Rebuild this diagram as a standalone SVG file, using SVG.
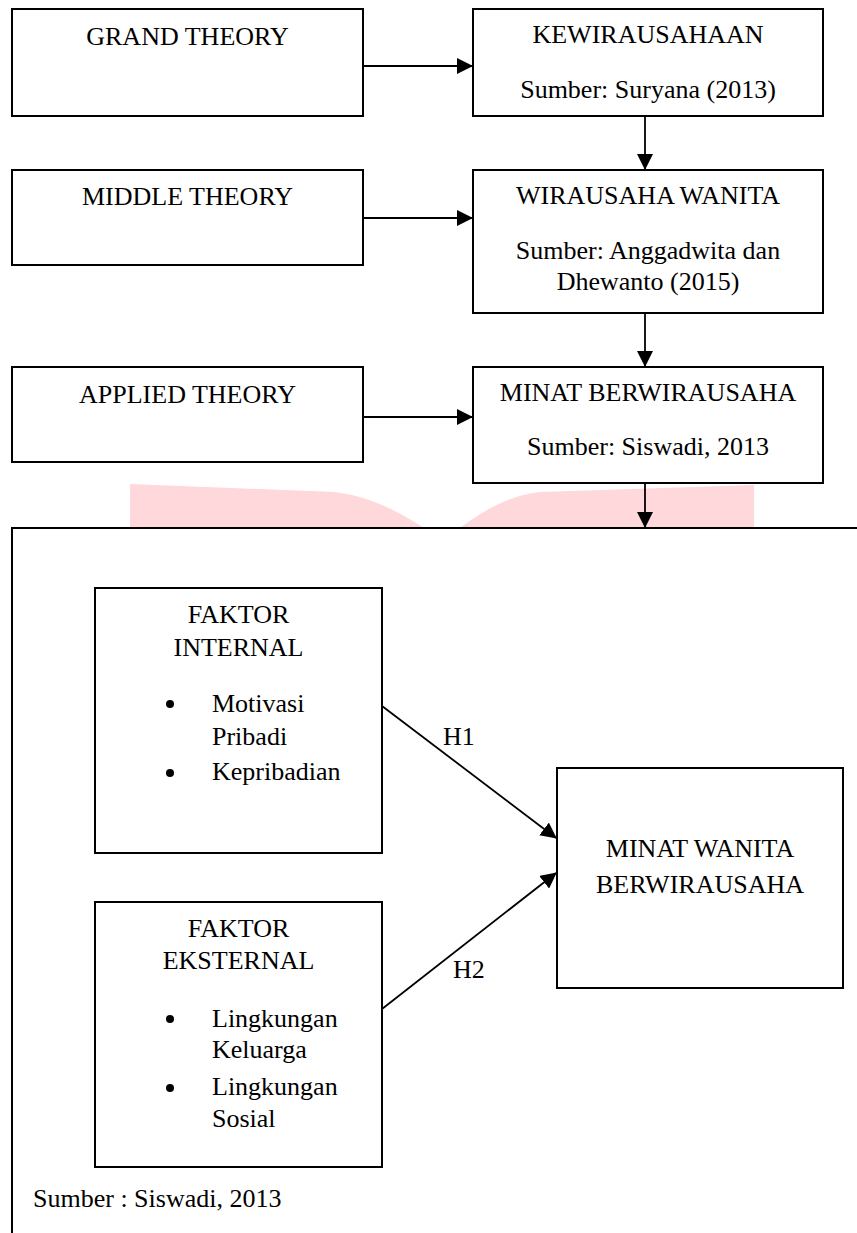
<svg xmlns="http://www.w3.org/2000/svg" width="857" height="1233" viewBox="0 0 857 1233">
<style>
.box{fill:#fff;stroke:#000;stroke-width:2}
.t{font-family:"Liberation Serif","Times New Roman",serif;font-size:26px;fill:#000}
.c{text-anchor:middle}
.ln{stroke:#000;stroke-width:1.8;fill:none}
</style>
<defs>
<marker id="ah" markerWidth="16" markerHeight="16" refX="15" refY="8" orient="auto" markerUnits="userSpaceOnUse">
<path d="M0,0 L16,8 L0,16 Z" fill="#000"/>
</marker>
</defs>
<rect width="857" height="1233" fill="#fff"/>
<g id="watermark" fill="#FFD8DB">
<path d="M130,484 L335,492 C365,496 390,506 424,528 L130,528 Z"/>
<path d="M460,528 C490,506 510,496 540,492 L754,485 L754,528 Z"/>
</g>
<g id="frame" class="ln">
<path d="M857,528 L12,528 L12,1233" stroke-width="2"/>
</g>
<g id="connectors">
<line class="ln" x1="363" y1="66" x2="472" y2="66" marker-end="url(#ah)"/>
<line class="ln" x1="363" y1="218" x2="472" y2="218" marker-end="url(#ah)"/>
<line class="ln" x1="363" y1="417" x2="472" y2="417" marker-end="url(#ah)"/>
<line class="ln" x1="645" y1="116" x2="645" y2="169" marker-end="url(#ah)"/>
<line class="ln" x1="645" y1="313" x2="645" y2="366" marker-end="url(#ah)"/>
<line class="ln" x1="645" y1="483" x2="645" y2="527" marker-end="url(#ah)"/>
<line class="ln" x1="382" y1="706" x2="556" y2="838" marker-end="url(#ah)"/>
<line class="ln" x1="382" y1="1009" x2="556" y2="873" marker-end="url(#ah)"/>
<text class="t" x="443" y="745">H1</text>
<text class="t" x="453" y="978">H2</text>
</g>
<g id="grand">
<rect class="box" x="12" y="9" width="351" height="107"/>
<text class="t c" x="187.5" y="45">GRAND THEORY</text>
</g>
<g id="kewirausahaan">
<rect class="box" x="473" y="9" width="350" height="107"/>
<text class="t c" x="648" y="43">KEWIRAUSAHAAN</text>
<text class="t c" x="648" y="98">Sumber: Suryana (2013)</text>
</g>
<g id="middle">
<rect class="box" x="12" y="170" width="351" height="95"/>
<text class="t c" x="187.5" y="205">MIDDLE THEORY</text>
</g>
<g id="wirausaha-wanita">
<rect class="box" x="473" y="170" width="350" height="143"/>
<text class="t c" x="648" y="204">WIRAUSAHA WANITA</text>
<text class="t c" x="648" y="259">Sumber: Anggadwita dan</text>
<text class="t c" x="648" y="290">Dhewanto (2015)</text>
</g>
<g id="applied">
<rect class="box" x="12" y="367" width="351" height="95"/>
<text class="t c" x="187.5" y="403">APPLIED THEORY</text>
</g>
<g id="minat-berwirausaha">
<rect class="box" x="473" y="367" width="350" height="116"/>
<text class="t c" x="648" y="401">MINAT BERWIRAUSAHA</text>
<text class="t c" x="648" y="455">Sumber: Siswadi, 2013</text>
</g>
<g id="faktor-internal">
<rect class="box" x="95" y="588" width="287" height="265"/>
<text class="t c" x="238.5" y="623">FAKTOR</text>
<text class="t c" x="238.5" y="656">INTERNAL</text>
<circle cx="170" cy="704" r="4"/>
<text class="t" x="212" y="712">Motivasi</text>
<text class="t" x="212" y="745">Pribadi</text>
<circle cx="170" cy="773" r="4"/>
<text class="t" x="212" y="780">Kepribadian</text>
</g>
<g id="faktor-eksternal">
<rect class="box" x="95" y="902" width="287" height="265"/>
<text class="t c" x="238.5" y="937">FAKTOR</text>
<text class="t c" x="238.5" y="969">EKSTERNAL</text>
<circle cx="170" cy="1019" r="4"/>
<text class="t" x="212" y="1027">Lingkungan</text>
<text class="t" x="212" y="1058">Keluarga</text>
<circle cx="170" cy="1088" r="4"/>
<text class="t" x="212" y="1095">Lingkungan</text>
<text class="t" x="212" y="1127">Sosial</text>
</g>
<g id="minat-wanita">
<rect class="box" x="557" y="768" width="286" height="220"/>
<text class="t c" x="700" y="857">MINAT WANITA</text>
<text class="t c" x="700" y="893">BERWIRAUSAHA</text>
</g>
<g id="source">
<text class="t" x="33" y="1207">Sumber : Siswadi, 2013</text>
</g>
</svg>
